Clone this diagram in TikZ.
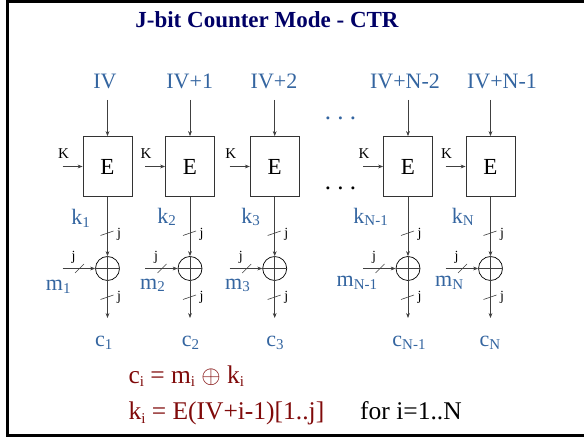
\documentclass[tikz,border=0pt]{standalone}
\usepackage{fontspec}
\setmainfont{Liberation Serif}
\usetikzlibrary{arrows.meta}
\definecolor{lblue}{RGB}{52,101,160}
\definecolor{navy}{RGB}{0,0,102}
\definecolor{dred}{RGB}{128,10,10}
\newcommand{\lsub}[1]{\raisebox{-2.5pt}{\fontsize{15}{15}\selectfont #1}}
\newcommand{\fsub}[1]{\raisebox{-3pt}{\fontsize{15}{15}\selectfont #1}}
\begin{document}
\begin{tikzpicture}[x=1pt,y=-1pt,
  lbl/.style={text=lblue,font=\fontsize{22}{26}\selectfont,inner sep=0pt},
  ebox/.style={draw=black!80,line width=0.8pt,minimum width=49pt,minimum height=60pt,inner sep=0pt,font=\fontsize{23}{26}\selectfont},
  xorc/.style={draw=black,circle,minimum size=24pt,inner sep=0pt,line width=0.7pt},
  wire/.style={draw=black!75,line width=0.6pt},
  arr/.style={wire,-{Stealth[length=5pt,width=3.8pt]}},
  klbl/.style={font=\fontsize{15}{15}\selectfont,inner sep=0pt},
  jlbl/.style={font=\fontsize{14}{14}\selectfont,inner sep=0pt},
  dots/.style={font=\fontsize{25}{26}\selectfont,inner sep=0pt,anchor=base},
  frm/.style={font=\fontsize{25.5}{28}\selectfont,inner sep=0pt,anchor=base west}
  ]
\useasboundingbox (0,0) rectangle (584,438);
\draw[line width=2.6pt] (590,1.3) -- (7.3,1.3) -- (7.3,435.3) -- (590,435.3);
\node[inner sep=0pt,anchor=base,text=navy,font=\fontsize{23}{26}\selectfont\bfseries] (title) at (267,27.5) {J-bit Counter Mode - CTR};
% IV labels
\node[lbl,anchor=base] (iv1) at (105,88.3) {IV};
\node[lbl,anchor=base] (iv2) at (189.7,88.3) {IV+1};
\node[lbl,anchor=base] (iv3) at (274,88.3) {IV+2};
\node[lbl,anchor=base] (iv4) at (405,88.3) {IV+N-2};
\node[lbl,anchor=base] (iv5) at (502,88.3) {IV+N-1};
% dots
\node[dots,text=lblue] (dtop) at (340.5,119.5) {.\hspace{0.25em}.\hspace{0.25em}.};
\node[dots] (dbot) at (340.5,189.5) {.\hspace{0.25em}.\hspace{0.25em}.};
% columns
\foreach \i/\cx in {1/107.5,2/190,3/274.7,4/408,5/490.5} {
  \node[ebox] (e\i) at (\cx,166.5) {E};
  \coordinate (t\i) at (\cx,100);
  \draw[arr] (t\i) -- (e\i.north);
  \node[klbl] (K\i) at (\cx-44,154) {K};
  \coordinate (ks\i) at (\cx-45,166.5);
  \draw[arr] (ks\i) -- (e\i.west);
  \node[xorc] (x\i) at (\cx,268.5) {};
  \draw[wire,line width=0.7pt] (x\i.north) -- (x\i.south) (x\i.west) -- (x\i.east);
  \draw[arr] (e\i.south) -- (x\i.north);
  \coordinate (ms\i) at (\cx-45,268.5);
  \draw[arr] (ms\i) -- (x\i.west);
  \coordinate (ce\i) at (\cx,318);
  \draw[arr] (x\i.south) -- (ce\i);
  % bus-width slashes
  \draw[wire] (\cx-7,235.5) -- (\cx+6,231);
  \node[jlbl] (ja\i) at (\cx+11.5,234) {j};
  \draw[wire] (\cx-7,299.5) -- (\cx+6,295);
  \node[jlbl] (jb\i) at (\cx+11.5,297) {j};
  \draw[wire] (\cx-32.5,273) -- (\cx-23.5,264);
  \node[jlbl] (jc\i) at (\cx-34,257) {j};
}
% k labels
\node[lbl,anchor=base east] (k1) at (90,225) {k\lsub{1}};
\node[lbl,anchor=base east] (k2) at (176,223.5) {k\lsub{2}};
\node[lbl,anchor=base east] (k3) at (260,223.5) {k\lsub{3}};
\node[lbl,anchor=base east] (k4) at (388,223.5) {k\lsub{N-1}};
\node[lbl,anchor=base east] (k5) at (474,223.5) {k\lsub{N}};
% m labels
\node[lbl,anchor=base east] (m1) at (70.7,291) {m\lsub{1}};
\node[lbl,anchor=base east] (m2) at (165,289.5) {m\lsub{2}};
\node[lbl,anchor=base east] (m3) at (250,289.5) {m\lsub{3}};
\node[lbl,anchor=base east] (m4) at (377.3,287) {m\lsub{N-1}};
\node[lbl,anchor=base east] (m5) at (463.3,287) {m\lsub{N}};
% c labels
\node[lbl,anchor=base] (c1) at (103.7,346.7) {c\lsub{1}};
\node[lbl,anchor=base] (c2) at (190.5,346.7) {c\lsub{2}};
\node[lbl,anchor=base] (c3) at (275,346.7) {c\lsub{3}};
\node[lbl,anchor=base] (c4) at (409,346.7) {c\lsub{N-1}};
\node[lbl,anchor=base] (c5) at (490,346.7) {c\lsub{N}};
% formulas
\node[frm,text=dred] (f1) at (128.3,383.3) {c\fsub{i} = m\fsub{i} $\oplus$ k\fsub{i}};
\node[frm,text=dred] (f2) at (128.3,420) {k\fsub{i} = E(IV+i-1)[1..j]};
\node[frm] (f3) at (360,420) {for i=1..N};
\end{tikzpicture}
\end{document}
